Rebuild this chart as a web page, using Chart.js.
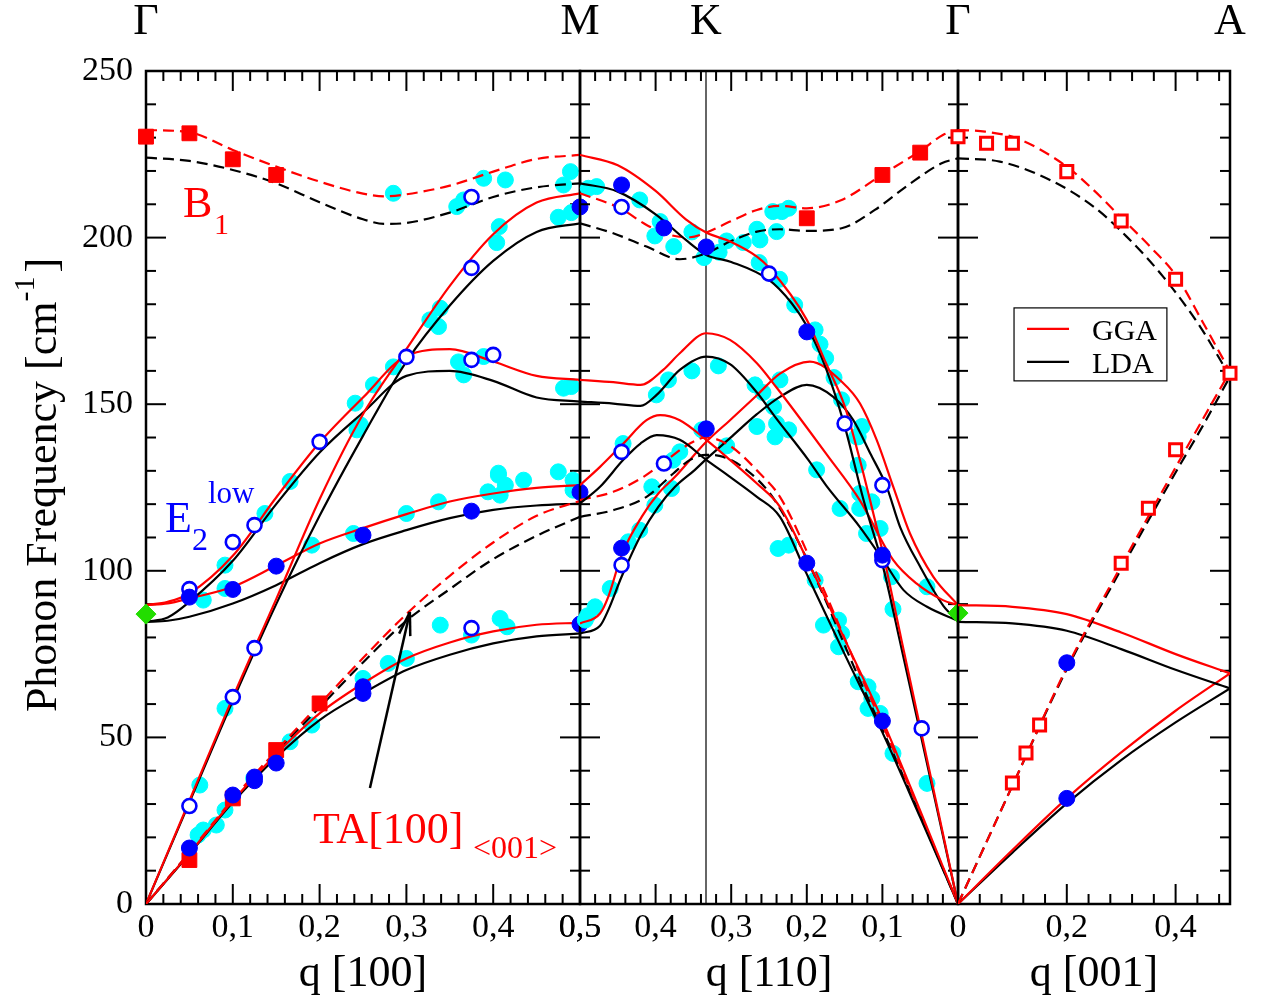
<!DOCTYPE html>
<html>
<head>
<meta charset="utf-8">
<script src="https://cdn.jsdelivr.net/npm/chart.js"></script>
<style>
  body { margin: 0; background: #fff; }
  #wrap { position: relative; width: 1266px; height: 1005px; overflow: hidden; background: #fff; }
  #wrap canvas { position: absolute; top: 0; }
</style>
</head>
<body>
<div id="wrap">
  <canvas id="c100" width="640" height="1005" style="left:0px"></canvas>
  <canvas id="c110" width="500" height="1005" style="left:520px"></canvas>
  <canvas id="c001" width="366" height="1005" style="left:900px"></canvas>
</div>
<script>
// ---- tick labels ----
const yTicks = [0, 50, 100, 150, 200, 250];
const xTicks100 = [0, 0.1, 0.2, 0.3, 0.4, 0.5];
const xTicks110 = [0.5, 0.4, 0.3, 0.2, 0.1, 0];
const xTicks001 = [0.2, 0.4];

// ---- q [100] : Gamma -> M  (GGA = g..., LDA = l...) ----
const g100B1 = [[0,232.3],[0.05,231.6],[0.1,226.3],[0.15,221.3],[0.2,216.8],[0.25,213.2],[0.275,212.4],[0.3,213],[0.35,215.6],[0.4,219.8],[0.45,223.6],[0.5,224.8]];
const l100B1 = [[0,224],[0.05,223],[0.1,220.3],[0.15,216.3],[0.2,210.6],[0.25,205.5],[0.275,204.1],[0.3,204.4],[0.35,207.5],[0.4,212.2],[0.45,215.1],[0.5,216.3]];
const g100TA = [[0,0],[0.05,15.2],[0.1,31],[0.15,45],[0.2,57.2],[0.25,66.2],[0.3,73.7],[0.35,78.5],[0.4,81.8],[0.45,83.8],[0.5,84.4]];
const l100TA = [[0,0],[0.05,15],[0.1,30.5],[0.15,44],[0.2,55.2],[0.25,63.2],[0.3,70.2],[0.35,74.8],[0.4,78.2],[0.45,80.3],[0.5,81.2]];
const g100TAz = [[0,0],[0.05,15.5],[0.1,31.5],[0.15,46],[0.2,60],[0.25,73.8],[0.3,87],[0.35,98.5],[0.4,108.5],[0.45,116.5],[0.5,121]];
const l100TAz = [[0,0],[0.05,15.3],[0.1,31],[0.15,45.5],[0.2,59],[0.25,72.5],[0.3,85],[0.35,94.5],[0.4,103.5],[0.45,110.5],[0.5,116.2]];
const g100LA = [[0,0],[0.05,31],[0.1,62],[0.15,91.5],[0.2,121.5],[0.25,147],[0.3,166.5],[0.35,185.5],[0.4,201],[0.45,210.5],[0.5,213.3]];
const l100LA = [[0,0],[0.05,30.5],[0.1,61],[0.15,90],[0.2,116.5],[0.25,140.5],[0.3,162.8],[0.35,179.6],[0.4,193],[0.45,201.7],[0.5,204.3]];
const g100E2a = [[0,89.7],[0.025,90.7],[0.05,93.2],[0.1,104.5],[0.15,122],[0.2,138.5],[0.25,152],[0.3,164.5],[0.35,166.5],[0.4,162.8],[0.45,158.5],[0.5,157.3]];
const l100E2a = [[0,84.7],[0.025,86],[0.05,90.7],[0.1,103],[0.15,120],[0.2,135.5],[0.25,147.5],[0.3,158.5],[0.35,160],[0.4,157],[0.45,152],[0.5,150.8]];
const g100E2b = [[0,89.7],[0.025,90.2],[0.05,91.7],[0.1,95.2],[0.15,101.6],[0.2,108.2],[0.25,112.8],[0.3,117],[0.35,120.8],[0.4,123.2],[0.45,124.9],[0.5,125.7]];
const l100E2b = [[0,84.7],[0.025,85],[0.05,86.2],[0.1,90.2],[0.15,95.7],[0.2,102.3],[0.25,108],[0.3,112.2],[0.35,115.8],[0.4,118.3],[0.45,119.6],[0.5,120.2]];

// ---- q [110] : M -> K -> Gamma ----
const g110top = [[0.5,224.8],[0.45,221.7],[0.4,214],[0.36,205.5],[0.333,201.5],[0.3,198.7],[0.266,194.3],[0.25,191],[0.2,175.3],[0.175,162.5],[0.15,149.5],[0.13,133.5],[0.112,117.2],[0.1,106],[0.075,79.5],[0.05,53],[0.025,26.5],[0,0]];
const l110top = [[0.5,216.3],[0.45,213.8],[0.4,207],[0.36,199.3],[0.333,194.8],[0.3,192.7],[0.25,187.3],[0.22,180.3],[0.2,173.5],[0.175,161],[0.15,143.5],[0.125,121.3],[0.1,102],[0.075,77],[0.05,51.5],[0.025,25.7],[0,0]];
const g110B1 = [[0.5,213.3],[0.447,208.8],[0.412,203.8],[0.381,200.8],[0.3545,200.1],[0.333,201.5],[0.3016,204.8],[0.266,208.3],[0.2355,209.5],[0.2,208.8],[0.154,211.3],[0.101,218.8],[0.048,226.3],[0.02,230.8],[0,232.3]];
const l110B1 = [[0.5,204.3],[0.456,201.3],[0.412,197.3],[0.368,193.5],[0.333,195.3],[0.3016,198.8],[0.266,201.8],[0.2355,202.5],[0.2,202],[0.154,202.8],[0.11,208.3],[0.0657,215.8],[0.0216,222.3],[0,223.8]];
const g110mid = [[0.5,157.3],[0.456,156.6],[0.42,155.8],[0.39,160.3],[0.368,165.3],[0.333,171.3],[0.3016,169.3],[0.266,162.3],[0.24,155],[0.2,143],[0.174,135],[0.13,121.2],[0.0856,103.2],[0.055,96.2],[0.02,91.2],[0,89.7]];
const l110mid = [[0.5,150.8],[0.456,150.2],[0.42,149.5],[0.3986,152.8],[0.368,160.3],[0.333,164.3],[0.3016,162],[0.266,153.5],[0.242,146.2],[0.198,133.3],[0.174,125.5],[0.13,113.2],[0.099,103.2],[0.072,94.2],[0.041,89.2],[0,85]];
const g110TA = [[0.5,125.7],[0.4735,131.2],[0.4427,138.2],[0.412,145.2],[0.394,146.7],[0.368,145.2],[0.333,139.3],[0.3016,133.3],[0.266,126.2],[0.2355,119.2],[0.2,103.5],[0.15,79.5],[0.1,55.2],[0.05,28],[0,0]];
const l110TA = [[0.5,120.2],[0.4735,125.2],[0.4427,133.3],[0.42,138.2],[0.3986,140.7],[0.368,139.3],[0.333,133.3],[0.3016,128.2],[0.266,122.2],[0.2355,116.2],[0.2,99],[0.15,75],[0.1,51.5],[0.05,26],[0,0]];
const g110TAz = [[0.5,121.2],[0.456,123.7],[0.416,128.2],[0.385,133.3],[0.3545,138.2],[0.333,140],[0.3016,137.5],[0.262,129.2],[0.2355,122.2],[0.189,100.2],[0.1319,70.2],[0.0833,45.2],[0,0]];
const l110TAz = [[0.5,116.2],[0.456,118.2],[0.412,122.2],[0.3766,129.2],[0.3545,133.3],[0.333,134.8],[0.3104,134.2],[0.28,130.3],[0.2487,123.2],[0.22,112.5],[0.189,98.2],[0.1319,68.2],[0.0833,44],[0,0]];
const g110up = [[0.5,84.2],[0.4735,87.2],[0.4626,92.2],[0.445,104.7],[0.4184,116.2],[0.3964,123.2],[0.3743,128.2],[0.333,138.7],[0.3016,145.2],[0.266,152.7],[0.2355,159.2],[0.196,162.8],[0.1517,156.3],[0.1296,150.2],[0.1076,139.3],[0.0856,125.2],[0.0635,111.2],[0.0326,98.2],[0,89.7]];
const l110up = [[0.5,81.2],[0.4735,83.5],[0.4626,88.2],[0.445,98.2],[0.4184,111.2],[0.3964,119.2],[0.3743,125.2],[0.348,130.3],[0.333,133.5],[0.3016,139.8],[0.266,147],[0.2355,152.2],[0.2,155.8],[0.165,152.2],[0.1385,145.2],[0.116,135.2],[0.0943,125.2],[0.0767,113.2],[0.05,101.2],[0.0194,89.5],[0,85]];

// ---- q [001] : Gamma -> A ----
const g001B1 = [[0,232.3],[0.05,231.8],[0.108,229.8],[0.2,221.3],[0.249,214.3],[0.298,206.3],[0.353,197.3],[0.402,188.3],[0.451,174.3],[0.5,159.8]];
const l001B1 = [[0,223.8],[0.077,222.8],[0.169,217.3],[0.249,209.3],[0.31,200.3],[0.377,188.3],[0.445,173.3],[0.5,158.3]];
const g001LA = [[0,0],[0.1,35.5],[0.2,71],[0.3,101.5],[0.4,131],[0.45,145.5],[0.5,159.8]];
const l001LA = [[0,0],[0.1,35.5],[0.2,70.5],[0.3,100.5],[0.4,129.5],[0.45,143.5],[0.5,158.3]];
const g001E2 = [[0,89.7],[0.1,89.2],[0.2,87],[0.3,81.5],[0.4,75],[0.5,69.2]];
const l001E2 = [[0,84.7],[0.1,84.2],[0.2,82],[0.3,76.5],[0.4,70.3],[0.5,64.7]];
const g001TA = [[0,0],[0.1,16.2],[0.2,31.7],[0.3,45.5],[0.4,58],[0.5,69.2]];
const l001TA = [[0,0],[0.1,15.4],[0.2,30.2],[0.3,43.2],[0.4,54.5],[0.5,64.7]];

// ---- measured points ----
const cyan100 = [[0.285,213.3],[0.389,217.8],[0.414,217.3],[0.358,209.3],[0.366,211.3],[0.489,219.8],[0.481,215.8],[0.475,206.1],[0.49,207.5],[0.407,203.3],[0.404,198.5],[0.327,175.3],[0.339,178.8],[0.337,173.3],[0.285,161.2],[0.262,155.8],[0.241,150.3],[0.247,143.8],[0.243,142.3],[0.36,162.7],[0.366,158.8],[0.389,164.3],[0.481,154.8],[0.49,155.3],[0.406,129.3],[0.435,127.2],[0.475,129.7],[0.492,127.2],[0.166,126.8],[0.137,117.2],[0.091,101.7],[0.091,94.7],[0.066,91.2],[0.191,107.7],[0.239,111.2],[0.3,117.2],[0.337,120.7],[0.394,123.7],[0.408,122.7],[0.406,128.7],[0.414,125.7],[0.492,124.2],[0.339,83.7],[0.375,80.7],[0.408,85.7],[0.416,83.2],[0.3,73.7],[0.279,72.2],[0.25,67.7],[0.191,53.7],[0.166,48.7],[0.091,58.7],[0.062,35.7],[0.091,28.2],[0.081,23.7],[0.066,22.2],[0.06,20.7],[0.124,37.7]];
const cyan110 = [[0.489,214.8],[0.478,215.3],[0.421,211.3],[0.394,204.8],[0.401,200.5],[0.376,197.3],[0.352,201.7],[0.336,194],[0.316,195.6],[0.306,199],[0.284,198.5],[0.266,202.5],[0.262,199.3],[0.245,207.8],[0.233,207.8],[0.224,208.8],[0.24,201.8],[0.263,192.5],[0.236,187.5],[0.216,179.8],[0.1935,171.7],[0.189,172.3],[0.1825,168],[0.175,163.8],[0.164,158],[0.154,151.3],[0.127,143.3],[0.132,140.2],[0.132,131.7],[0.443,138.2],[0.399,152.8],[0.383,157.3],[0.352,160],[0.317,161.5],[0.2685,155.8],[0.258,153.5],[0.2355,157.3],[0.244,149.2],[0.266,143.3],[0.242,140.2],[0.224,142.3],[0.24,144.2],[0.339,142.3],[0.306,137.5],[0.377,133.2],[0.368,135.7],[0.405,125.2],[0.379,124.7],[0.401,119.7],[0.421,112.2],[0.436,108.7],[0.46,94.7],[0.48,89.2],[0.493,85.2],[0.49,86.5],[0.238,106.7],[0.224,107.7],[0.189,97.2],[0.178,83.7],[0.158,85.2],[0.154,81.2],[0.158,77.2],[0.132,66.7],[0.119,65.2],[0.114,61.7],[0.119,58.7],[0.103,57.2],[0.086,45.2],[0.041,36.2],[0.041,95.2],[0.086,88.5],[0.088,98.2],[0.187,130.3],[0.156,118.7],[0.13,123.2],[0.114,120.7],[0.13,118.7],[0.103,112.7],[0.121,111.2],[0.134,140.2]];
const blue100 = [[0.05,16.8],[0.1,32.7],[0.125,38.1],[0.125,37],[0.15,42.3],[0.25,63.2],[0.25,65.2],[0.05,92.1],[0.1,94.4],[0.15,101.4],[0.25,110.7],[0.375,117.9],[0.5,123.6],[0.5,84],[0.5,209.2]];
const blue110 = [[0.445,215.8],[0.389,202.9],[0.333,197.2],[0.2,171.7],[0.333,142.6],[0.445,106.8],[0.2,102.3],[0.1,104.7],[0.1,54.9]];
const blue001 = [[0.2,72.4],[0.2,31.7]];
const open100 = [[0.05,29.4],[0.1,62.1],[0.125,76.8],[0.05,94.5],[0.1,108.6],[0.125,113.7],[0.2,138.7],[0.3,164.2],[0.375,163.3],[0.4,164.8],[0.375,190.9],[0.375,212.2],[0.375,82.8]];
const open110 = [[0.445,209.2],[0.25,189.2],[0.15,144.2],[0.445,135.7],[0.389,132.2],[0.445,101.7],[0.1,103.2],[0.1,125.7],[0.048,52.7]];
const sq100 = [[0,230.3],[0.05,231.3],[0.1,223.5],[0.15,218.8],[0.05,13.2],[0.1,31.7],[0.15,46.2],[0.2,60.2]];
const sq110 = [[0.2,205.8],[0.1,218.8],[0.05,225.5]];
const openSq001 = [[0,230.3],[0.0525,228.3],[0.1,228.3],[0.2,219.8],[0.3,205],[0.4,187.5],[0.5,159.3],[0.1,36.3],[0.125,45.3],[0.15,53.7],[0.3,102.3],[0.35,118.8],[0.4,136.3]];
const e2Low100 = [[0,87]];
const e2Low110 = [[0,87.3]];

const SERIF = "'Liberation Serif', 'Times New Roman', serif";
const RED = '#ff0000', BLACK = '#000000', CYAN = '#00ffff', BLUE = '#0000ff', GREEN = '#22dd00';

function xy(pts) { return pts.map(p => ({x: p[0], y: p[1]})); }

function curve(pts, color, dashed) {
  return {
    data: xy(pts), showLine: true, borderColor: color, borderWidth: 2.2,
    borderDash: dashed ? [11, 6] : [], pointRadius: 0,
    cubicInterpolationMode: 'monotone', fill: false, order: 2
  };
}
function marks(pts, style, r, fill, stroke, bw, order) {
  return {
    data: xy(pts), showLine: false, pointStyle: style, pointRadius: r,
    pointBackgroundColor: fill, pointBorderColor: stroke, pointBorderWidth: bw,
    clip: false, order: order
  };
}
const cyanDots = pts => marks(pts, 'circle', 8, CYAN, CYAN, 1, 3);
const blueDots = pts => marks(pts, 'circle', 8, BLUE, BLUE, 1, 1);
const blueRings = pts => marks(pts, 'circle', 7, '#fff', BLUE, 2.6, 1);
const redSquares = pts => marks(pts, 'rect', 10.5, RED, RED, 1, 1);
const redOpenSquares = pts => marks(pts, 'rect', 8.5, '#fff', RED, 3, 1);
const greenDiamond = pts => marks(pts, 'rectRot', 10, GREEN, GREEN, 1, 0);

function fmtQ(v) { return v === 0 ? '0' : v.toFixed(1).replace('.', ','); }

function line(ctx, x1, y1, x2, y2) { ctx.beginPath(); ctx.moveTo(x1, y1); ctx.lineTo(x2, y2); ctx.stroke(); }
function text(ctx, s, x, y, size, color, align) {
  ctx.font = size + 'px ' + SERIF; ctx.fillStyle = color;
  ctx.textAlign = align || 'left'; ctx.textBaseline = 'alphabetic';
  ctx.fillText(s, x, y);
}

// frame with inward ticks on all four sides
function framePlugin(xStep, xCount, majorEvery, extra) {
  return {
    id: 'frame',
    beforeDatasetsDraw(chart) {
      const ctx = chart.ctx, xs = chart.scales.x, ys = chart.scales.y;
      const {left, right, top, bottom} = chart.chartArea;
      ctx.save();
      ctx.strokeStyle = BLACK; ctx.lineWidth = 2;
      for (let v = 0; v <= 250; v += 10) {
        const y = ys.getPixelForValue(v);
        const len = v % 50 === 0 ? 20 : 10;
        line(ctx, left, y, left + len, y);
        line(ctx, right, y, right - len, y);
      }
      for (let i = 0; i <= xCount; i++) {
        const x = xs.getPixelForValue(i * xStep);
        const len = i % majorEvery === 0 ? 20 : 10;
        line(ctx, x, bottom, x, bottom - len);
        line(ctx, x, top, x, top + len);
      }
      if (extra) extra(chart, ctx);
      ctx.lineWidth = 2.5;
      ctx.strokeRect(left, top, right - left, bottom - top);
      ctx.restore();
    }
  };
}

function baseOptions(cfg) {
  return {
    responsive: false, animation: false, devicePixelRatio: 1, events: [],
    layout: { padding: cfg.padding },
    plugins: { legend: { display: false }, tooltip: { enabled: false } },
    scales: {
      x: {
        type: 'linear', min: 0, max: 0.5, reverse: !!cfg.reverse,
        grid: { display: false, drawTicks: false }, border: { display: false },
        afterBuildTicks: s => { s.ticks = cfg.xTicks.map(v => ({ value: v })); },
        afterFit: s => { s.height = 101; },
        ticks: { font: { family: SERIF, size: 34 }, color: BLACK, padding: 4,
                 maxRotation: 0, autoSkip: false, callback: v => fmtQ(v) },
        title: { display: true, text: cfg.title, color: BLACK,
                 font: { family: SERIF, size: 44 }, padding: { top: 0, bottom: 4 } }
      },
      y: cfg.showY ? {
        type: 'linear', min: 0, max: 250,
        grid: { display: false, drawTicks: false }, border: { display: false },
        afterBuildTicks: s => { s.ticks = yTicks.map(v => ({ value: v })); },
        afterFit: s => { s.width = 146; },
        ticks: { font: { family: SERIF, size: 34 }, color: BLACK, padding: 13 }
      } : { type: 'linear', min: 0, max: 250, display: false }
    }
  };
}

// ---------- panel 1 : q [100] ----------
const labels100 = {
  id: 'labels100',
  afterDatasetsDraw(chart) {
    const ctx = chart.ctx, xs = chart.scales.x, ys = chart.scales.y;
    ctx.save();
    text(ctx, 'Γ', xs.getPixelForValue(0), 34, 44, BLACK, 'center');
    text(ctx, 'M', xs.getPixelForValue(0.5), 34, 44, BLACK, 'center');
    // B1
    text(ctx, 'B', 183, 217, 44, RED);
    text(ctx, '1', 214, 234, 30, RED);
    // E2 low
    text(ctx, 'E', 165, 532, 44, BLUE);
    text(ctx, '2', 192, 550, 32, BLUE);
    text(ctx, 'low', 208, 503, 31, BLUE);
    // TA[100]<001>
    text(ctx, 'TA[100]', 313, 843, 44, RED);
    text(ctx, '<001>', 473, 858, 32, RED);
    // arrow to the dashed TA branch
    const x1 = xs.getPixelForValue(0.258), y1 = ys.getPixelForValue(34.8);
    const x2 = xs.getPixelForValue(0.304), y2 = ys.getPixelForValue(87.6);
    ctx.strokeStyle = BLACK; ctx.lineWidth = 2.5;
    line(ctx, x1, y1, x2, y2);
    const a = Math.atan2(y1 - y2, x1 - x2);
    for (const d of [-0.24, 0.24]) {
      line(ctx, x2, y2, x2 + 24 * Math.cos(a + d), y2 + 24 * Math.sin(a + d));
    }
    // y axis title with superscript
    ctx.translate(56, 485);
    ctx.rotate(-Math.PI / 2);
    ctx.fillStyle = BLACK; ctx.textBaseline = 'alphabetic'; ctx.textAlign = 'left';
    const main = 'Phonon Frequency [cm';
    ctx.font = '44px ' + SERIF;
    const w1 = ctx.measureText(main).width;
    ctx.font = '30px ' + SERIF;
    const w2 = ctx.measureText('-1').width;
    ctx.font = '44px ' + SERIF;
    const w3 = ctx.measureText(']').width;
    let x0 = -(w1 + w2 + w3 + 4) / 2;
    ctx.fillText(main, x0, 0); x0 += w1;
    ctx.font = '30px ' + SERIF; ctx.fillText('-1', x0, -22); x0 += w2 + 4;
    ctx.font = '44px ' + SERIF; ctx.fillText(']', x0, 0);
    ctx.restore();
  }
};

new Chart(document.getElementById('c100'), {
  type: 'scatter',
  data: { datasets: [
    curve(g100B1, RED, true), curve(l100B1, BLACK, true),
    curve(g100TA, RED), curve(l100TA, BLACK),
    curve(g100TAz, RED, true), curve(l100TAz, BLACK, true),
    curve(g100LA, RED), curve(l100LA, BLACK),
    curve(g100E2a, RED), curve(l100E2a, BLACK),
    curve(g100E2b, RED), curve(l100E2b, BLACK),
    cyanDots(cyan100), blueDots(blue100), blueRings(open100),
    redSquares(sq100), greenDiamond(e2Low100)
  ] },
  options: baseOptions({ padding: { left: 0, top: 71, right: 60, bottom: 0 },
                         xTicks: xTicks100, title: 'q [100]', showY: true }),
  plugins: [framePlugin(0.02, 25, 5), labels100]
});

// ---------- panel 2 : q [110] ----------
const labels110 = {
  id: 'labels110',
  afterDatasetsDraw(chart) {
    const ctx = chart.ctx, xs = chart.scales.x;
    ctx.save();
    text(ctx, 'K', xs.getPixelForValue(1 / 3), 34, 44, BLACK, 'center');
    text(ctx, 'Γ', xs.getPixelForValue(0), 34, 44, BLACK, 'center');
    ctx.restore();
  }
};
function kLine(chart, ctx) {
  const x = chart.scales.x.getPixelForValue(1 / 3);
  ctx.save(); ctx.strokeStyle = '#333'; ctx.lineWidth = 1.5;
  line(ctx, x, chart.chartArea.top, x, chart.chartArea.bottom);
  ctx.restore();
}

new Chart(document.getElementById('c110'), {
  type: 'scatter',
  data: { datasets: [
    curve(g110top, RED), curve(l110top, BLACK),
    curve(g110B1, RED, true), curve(l110B1, BLACK, true),
    curve(g110mid, RED), curve(l110mid, BLACK),
    curve(g110TA, RED), curve(l110TA, BLACK),
    curve(g110TAz, RED, true), curve(l110TAz, BLACK, true),
    curve(g110up, RED), curve(l110up, BLACK),
    cyanDots(cyan110), blueDots(blue110), blueRings(open110),
    redSquares(sq110), greenDiamond(e2Low110)
  ] },
  options: baseOptions({ padding: { left: 60, top: 71, right: 62, bottom: 0 },
                         xTicks: xTicks110, title: 'q [110]', showY: false, reverse: true }),
  plugins: [framePlugin(0.02, 25, 5, kLine), labels110]
});

// ---------- panel 3 : q [001] ----------
const labels001 = {
  id: 'labels001',
  afterDatasetsDraw(chart) {
    const ctx = chart.ctx, xs = chart.scales.x, ys = chart.scales.y;
    ctx.save();
    text(ctx, 'A', xs.getPixelForValue(0.5), 34, 44, BLACK, 'center');
    // legend box
    const bx = xs.getPixelForValue(0.103), by = ys.getPixelForValue(178.9);
    const bw = xs.getPixelForValue(0.384) - bx, bh = ys.getPixelForValue(157) - by;
    ctx.fillStyle = '#fff'; ctx.fillRect(bx, by, bw, bh);
    ctx.strokeStyle = BLACK; ctx.lineWidth = 1.2; ctx.strokeRect(bx, by, bw, bh);
    ctx.lineWidth = 2.2;
    ctx.strokeStyle = RED; line(ctx, bx + 13, by + 21, bx + 55, by + 21);
    ctx.strokeStyle = BLACK; line(ctx, bx + 13, by + 54, bx + 55, by + 54);
    text(ctx, 'GGA', bx + 78, by + 32, 30, BLACK);
    text(ctx, 'LDA', bx + 78, by + 65, 30, BLACK);
    ctx.restore();
  }
};

new Chart(document.getElementById('c001'), {
  type: 'scatter',
  data: { datasets: [
    curve(g001B1, RED, true), curve(l001B1, BLACK, true),
    curve(g001LA, RED, true), curve(l001LA, BLACK, true),
    curve(g001E2, RED), curve(l001E2, BLACK),
    curve(g001TA, RED), curve(l001TA, BLACK),
    blueDots(blue001), redOpenSquares(openSq001)
  ] },
  options: baseOptions({ padding: { left: 58, top: 71, right: 36, bottom: 0 },
                         xTicks: xTicks001, title: 'q [001]', showY: false }),
  plugins: [framePlugin(0.04, 12, 5), labels001]
});
</script>
</body>
</html>
